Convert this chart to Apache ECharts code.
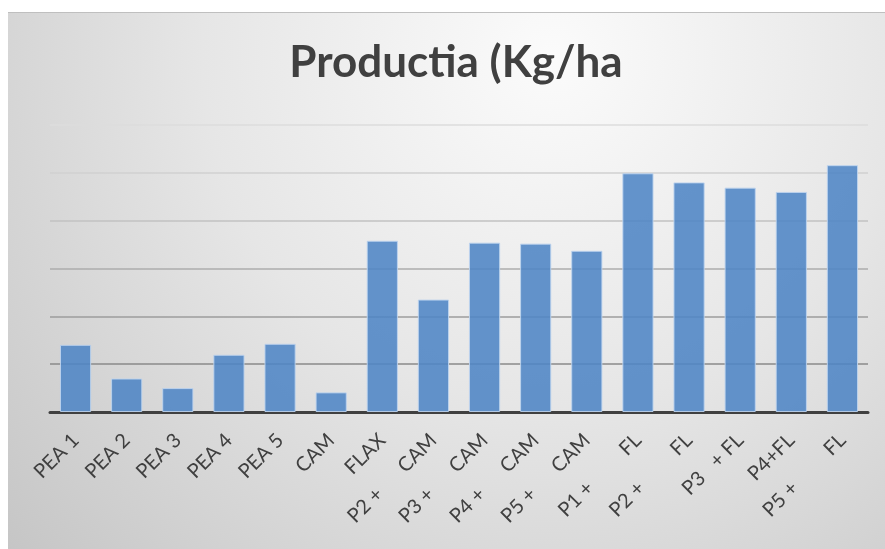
<!DOCTYPE html>
<html>
<head>
<meta charset="utf-8">
<script src="https://cdn.jsdelivr.net/npm/echarts@6/dist/echarts.min.js"></script>
<style>
  html, body { margin: 0; padding: 0; background: #ffffff; }
  #wrap { position: relative; width: 885px; height: 549px; overflow: hidden; }
  #chart { position: absolute; left: 8px; top: 12px; width: 877px; height: 536px; border-top: 1px solid #bfbfbf; }
</style>
</head>
<body>
<div id="wrap"><div id="chart"></div></div>
<script>
// Treatments (x-axis categories)
const categories = [
  'PEA 1', 'PEA 2', 'PEA 3', 'PEA 4', 'PEA 5', 'CAM', 'FLAX',
  'P2 +      CAM', 'P3 +      CAM', 'P4 +      CAM', 'P5 +      CAM',
  'P1 +         FL', 'P2 +         FL', 'P3   + FL', 'P4+FL', 'P5 +         FL'
];

// Yield per treatment (kg/ha)
const productia = [
  702, 350, 250, 598, 713, 205, 1790,
  1175, 1770, 1760, 1685,
  2495, 2400, 2345, 2300, 2580
];

// Value axis range (labels are not shown)
const yMin = 0;
const yMax = 3000;
const yStep = 500;

// Gridline shades, from the baseline upwards
const gridShades = ['#404040', '#8a8a8a', '#9c9c9c', '#adadad', '#c2c2c2', '#d0d0d0', '#dcdcdc'];

const chart = echarts.init(document.getElementById('chart'), null, { renderer: 'canvas' });

chart.setOption({
  animation: false,
  backgroundColor: {
    type: 'radial', x: 0.62, y: 0.08, r: 1.45,
    colorStops: [
      { offset: 0, color: '#fbfbfb' },
      { offset: 0.45, color: '#e6e6e6' },
      { offset: 1, color: '#c2c2c2' }
    ]
  },
  title: {
    text: 'Productia (Kg/ha',
    left: 443,
    textAlign: 'center',
    top: 23,
    textStyle: {
      fontFamily: 'Lato',
      fontWeight: 'bold',
      fontSize: 44,
      color: '#404040'
    }
  },
  grid: { left: 42, right: 17, top: 112, bottom: 137 },
  xAxis: {
    type: 'category',
    data: categories,
    axisLine: { show: true, lineStyle: { color: '#404040', width: 3 } },
    axisTick: { show: false },
    axisLabel: {
      interval: 0,
      rotate: 45,
      margin: 25,
      fontFamily: 'Lato',
      fontSize: 20,
      color: '#404040'
    }
  },
  yAxis: {
    type: 'value',
    min: yMin,
    max: yMax,
    interval: yStep,
    axisLine: { show: false },
    axisTick: { show: false },
    axisLabel: { show: false },
    splitLine: { show: true, lineStyle: { color: gridShades, width: 1.5 } }
  },
  series: [{
    name: 'Productia',
    type: 'bar',
    data: productia,
    barWidth: '61%',
    itemStyle: {
      color: 'rgba(79,133,197,0.88)',
      borderColor: 'rgba(190,212,238,0.9)',
      borderWidth: 1
    }
  }]
});
</script>
</body>
</html>
